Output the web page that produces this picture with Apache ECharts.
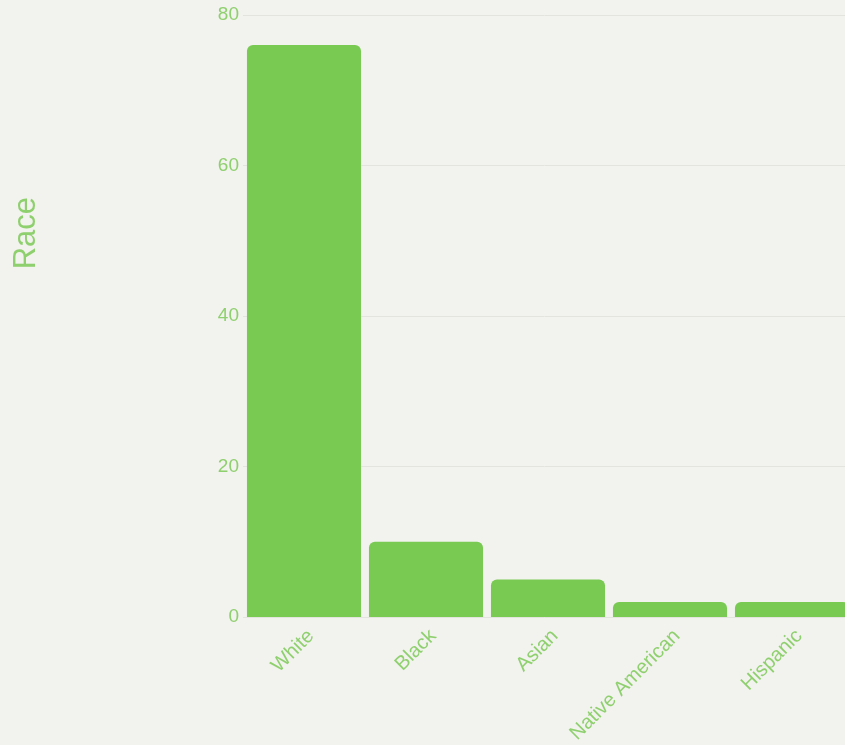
<!DOCTYPE html>
<html><head><meta charset="utf-8">
<script src="https://cdn.jsdelivr.net/npm/echarts@6/dist/echarts.min.js"></script>
<style>html,body{margin:0;padding:0;background:#f2f2ee;}#c{width:845px;height:745px;}</style>
</head><body><div id="c"></div>
<script>
const categories = ['White', 'Black', 'Asian', 'Native American', 'Hispanic'];
const values = [76, 10, 5, 2, 2];
const yTicks = [0, 20, 40, 60, 80];
const axisTitle = 'Race';

const chart = echarts.init(document.getElementById('c'));
chart.setOption({
  backgroundColor: '#f2f2ee',
  animation: false,
  grid: { left: 243, width: 610, top: 15, height: 602, containLabel: false, outerBoundsMode: 'none' },
  graphic: [{
    type: 'text', left: 11, top: 197, rotation: Math.PI / 2,
    style: { text: axisTitle, fill: '#8fd06e', font: '31px "Liberation Sans", Arial, sans-serif' }
  }],
  xAxis: {
    type: 'category', data: categories,
    axisLine: { show: false }, axisTick: { show: false },
    axisLabel: { rotate: 45, color: '#8fd06e', fontSize: 20, margin: 9, verticalAlign: 'top', fontFamily: 'Liberation Sans', interval: 0 }
  },
  yAxis: {
    type: 'value', min: yTicks[0], max: yTicks[yTicks.length - 1], interval: 20,
    axisLine: { show: false }, axisTick: { show: false },
    axisLabel: { color: '#8fd06e', fontSize: 19, margin: 4, fontFamily: 'Liberation Sans' },
    splitLine: { lineStyle: { color: '#e4e4df', width: 1 } }
  },
  series: [{
    type: 'bar', data: values, barCategoryGap: '6.5%',
    itemStyle: { color: '#79ca52', borderRadius: [6, 6, 0, 0] }
  }]
});
</script></body></html>
